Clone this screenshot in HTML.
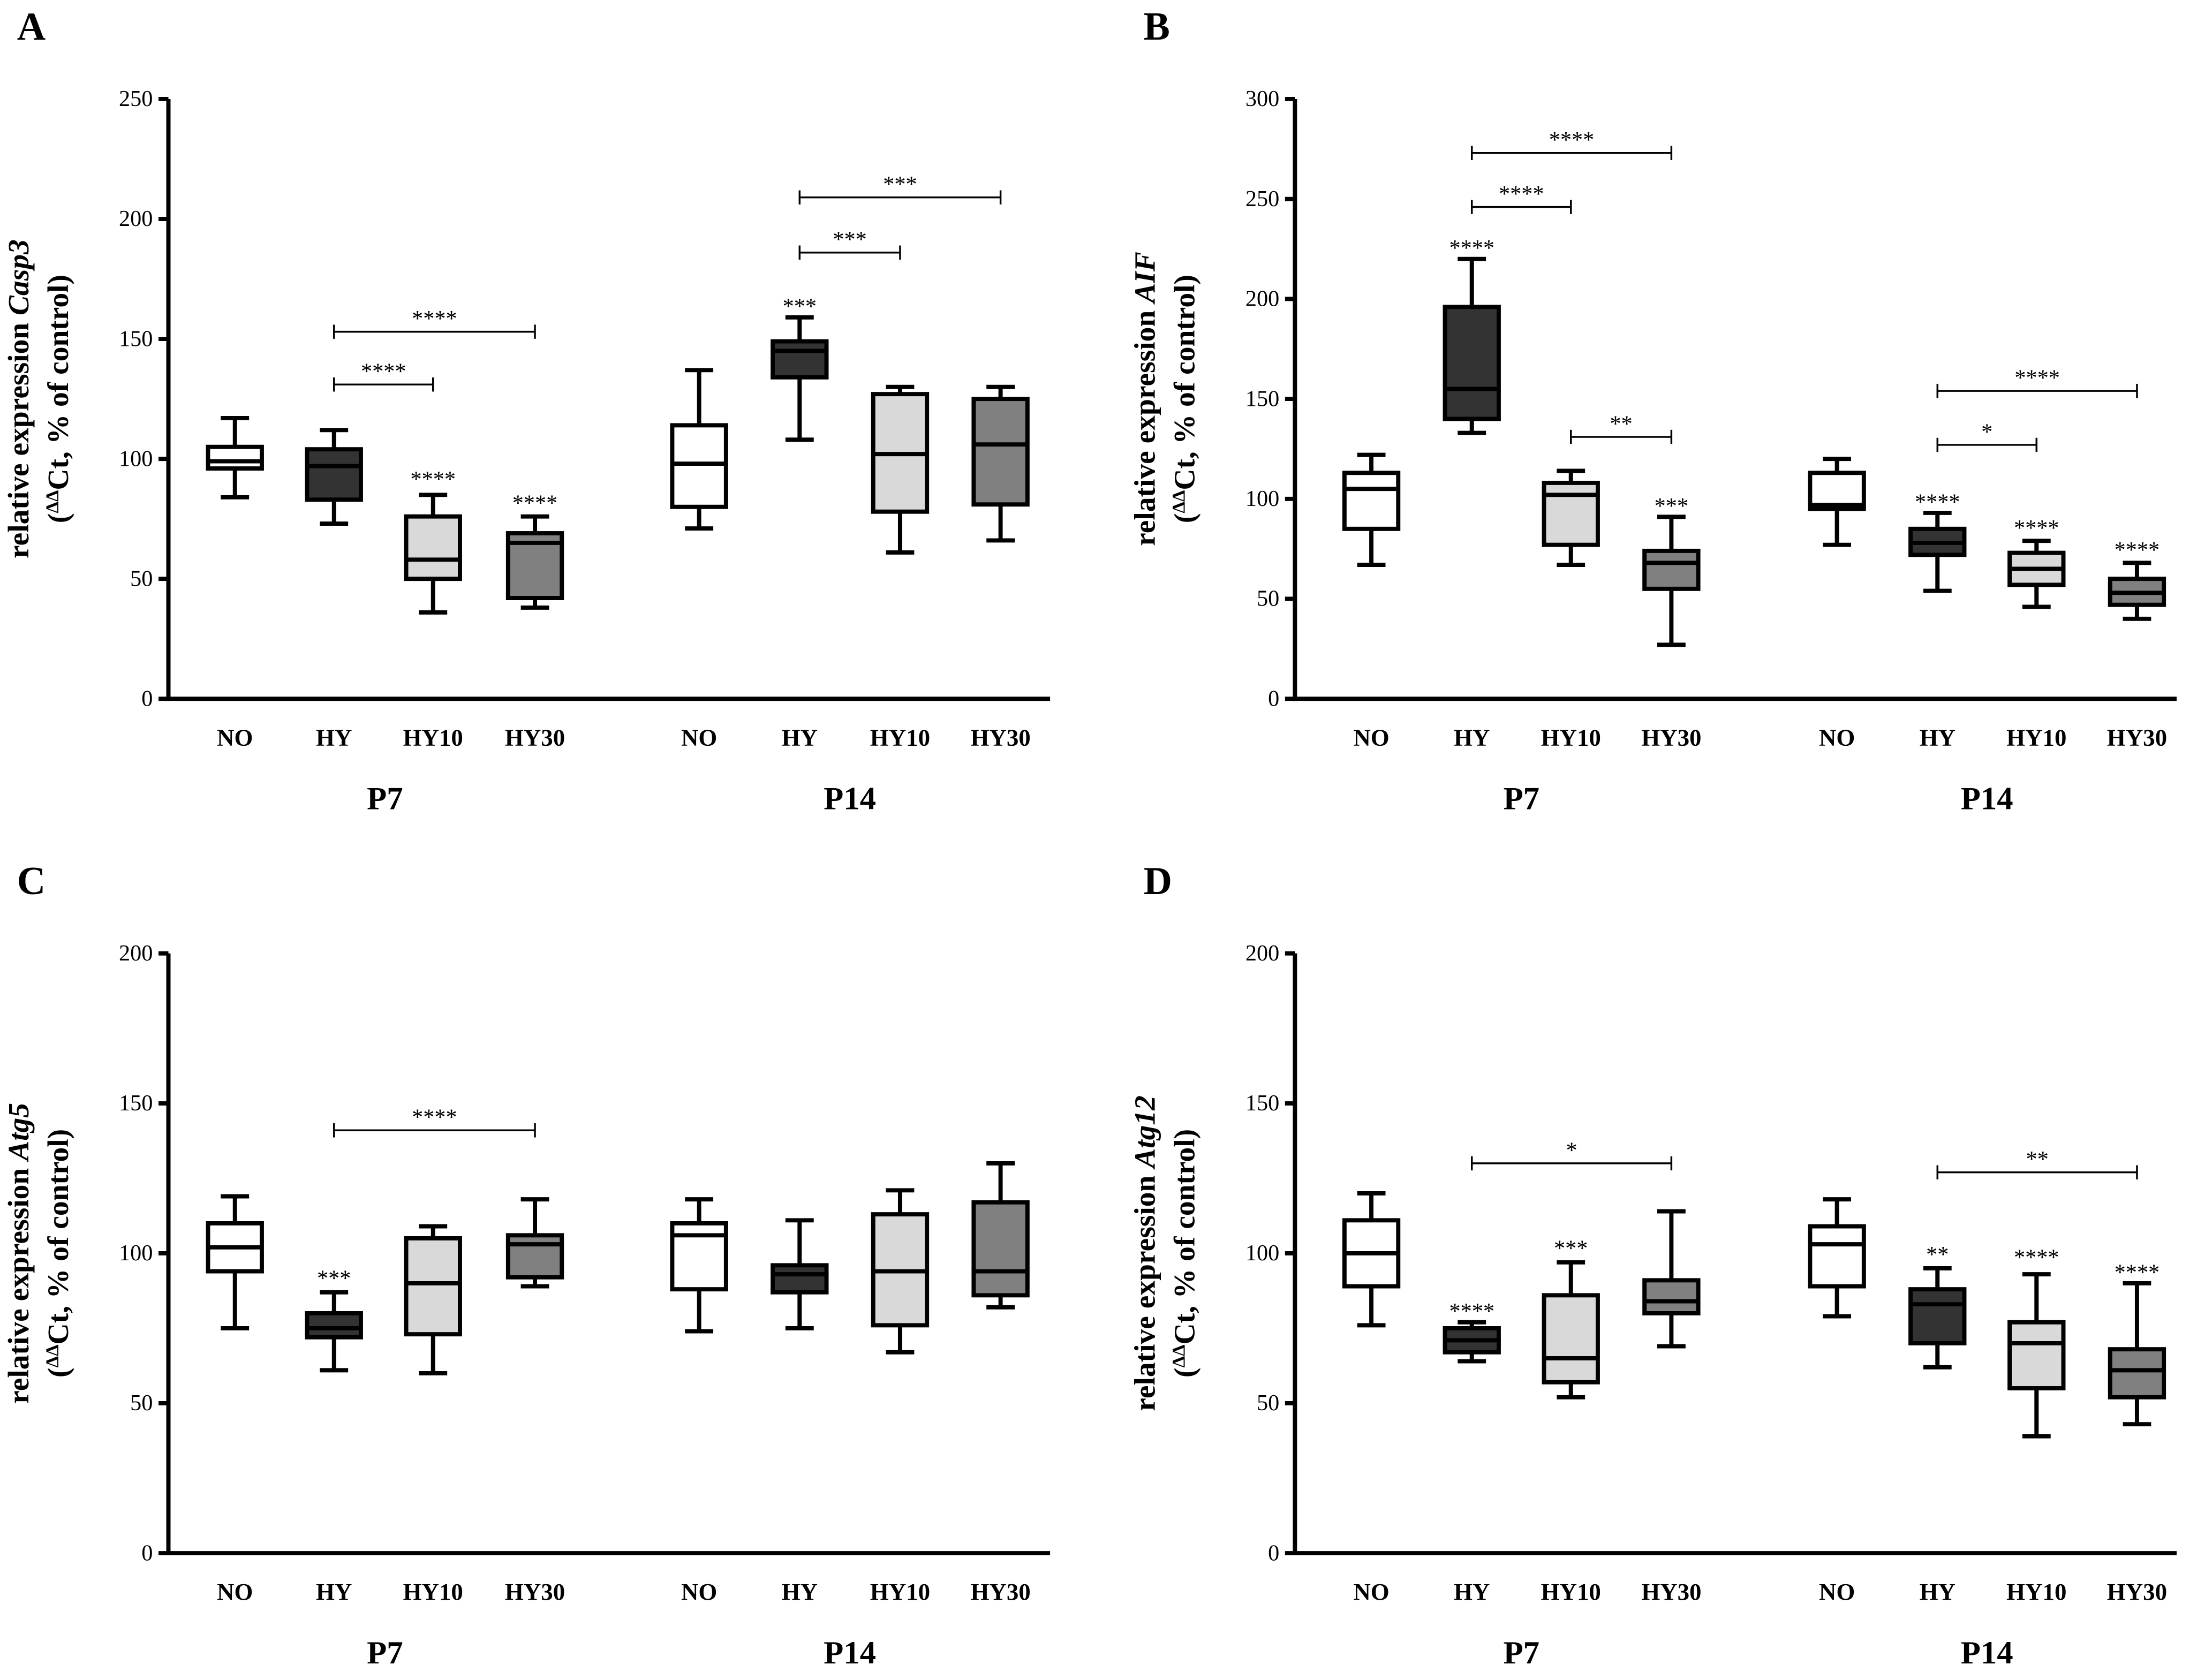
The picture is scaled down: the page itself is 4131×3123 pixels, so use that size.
<!DOCTYPE html>
<html><head><meta charset="utf-8"><style>
html,body{margin:0;padding:0;background:#fff;}
svg{display:block;font-family:"Liberation Serif",serif;}
</style></head><body>
<svg id="fig" width="4131" height="3123" viewBox="0 0 1563 1182" preserveAspectRatio="none" xmlns="http://www.w3.org/2000/svg"></svg>
<script>
const categories = ["NO","HY","HY10","HY30","NO","HY","HY10","HY30"];
const fills = ["#ffffff","#333333","#d9d9d9","#808080"];
// each box: [min, q1, median, q3, max]
const casp3Boxes = [[84,96,99,105,117],[73,83,97,104,112],[36,50,58,76,85],[38,42,65,69,76],
  [71,80,98,114,137],[108,134,145,149,159],[61,78,102,127,130],[66,81,106,125,130]];
const aifBoxes = [[67,85,105,113,122],[133,140,155,196,220],[67,77,102,108,114],[27,55,68,74,91],
  [77,95,97,113,120],[54,72,78,85,93],[46,57,65,73,79],[40,47,53,60,68]];
const atg5Boxes = [[75,94,102,110,119],[61,72,75,80,87],[60,73,90,105,109],[89,92,103,106,118],
  [74,88,106,110,118],[75,87,93,96,111],[67,76,94,113,121],[82,86,94,117,130]];
const atg12Boxes = [[76,89,100,111,120],[64,67,71,75,77],[52,57,65,86,97],[69,80,84,91,114],
  [79,89,103,109,118],[62,70,83,88,95],[39,55,70,77,93],[43,52,61,68,90]];
// star labels: [boxIndex, value, text]
const casp3Stars = [[2,92,"****"],[3,82,"****"],[5,164,"***"]];
const aifStars = [[1,226,"****"],[3,97,"***"],[5,99,"****"],[6,86,"****"],[7,75,"****"]];
const atg5Stars = [[1,92,"***"]];
const atg12Stars = [[1,81,"****"],[2,102,"***"],[5,100,"**"],[6,99,"****"],[7,94,"****"]];
// brackets: [fromBox, toBox, value, text]
const casp3Brackets = [[1,2,131,"****"],[1,3,153,"****"],[5,6,186,"***"],[5,7,209,"***"]];
const aifBrackets = [[1,2,246,"****"],[1,3,273,"****"],[2,3,131,"**"],[5,6,127,"*"],[5,7,154,"****"]];
const atg5Brackets = [[1,3,141,"****"]];
const atg12Brackets = [[1,3,130,"*"],[5,7,127,"**"]];
const casp3Ticks = [0,50,100,150,200,250];
const aifTicks = [0,50,100,150,200,250,300];
const atg5Ticks = [0,50,100,150,200];
const atg12Ticks = [0,50,100,150,200];

const NS="http://www.w3.org/2000/svg";
const svg=document.getElementById('fig');
function mk(tag,attrs,parent){const e=document.createElementNS(NS,tag);for(const k in attrs)e.setAttribute(k,attrs[k]);(parent||svg).appendChild(e);return e;}
function txt(s,attrs,parent){const e=mk('text',attrs,parent);e.textContent=s;return e;}

function panel(cfg){
  const g=mk('g',{});
  
  
  const yMax=cfg.ticks[cfg.ticks.length-1];
  const y=v=>cfg.y0-(v/yMax)*(cfg.y0-cfg.yTop);
  const xs=cfg.centers;
  const letter=txt(cfg.letter,{x:cfg.ax-107,y:cfg.yTop-42,'font-size':28,'font-weight':'bold'},g);
  
  
  const ya=mk('line',{x1:cfg.ax,x2:cfg.ax,y1:cfg.yTop,y2:cfg.y0+1.5,stroke:'#000','stroke-width':3},g);
  
  
  const xa=mk('line',{x1:cfg.ax-1.5,x2:cfg.ax+623,y1:cfg.y0,y2:cfg.y0,stroke:'#000','stroke-width':3},g);
  
  
  cfg.ticks.forEach(t=>{
    mk('line',{x1:cfg.ax-7,x2:cfg.ax,y1:y(t),y2:y(t),stroke:'#000','stroke-width':3},g);
    const tl=txt(String(t),{x:cfg.ax-11,y:y(t)+5,'font-size':16,'text-anchor':'end'},g);
    
    
  });
  const yc=(cfg.y0+cfg.yTop)/2;
  const t1=mk('text',{x:0,y:0,'font-size':21,'font-weight':'bold','text-anchor':'middle',transform:`translate(${cfg.ax-99},${yc}) rotate(-90)`},g);
  t1.innerHTML='relative expression <tspan font-style="italic">'+cfg.gene+'</tspan>';
  
  
  const t2=mk('text',{x:0,y:0,'font-size':21,'font-weight':'bold','text-anchor':'middle',transform:`translate(${cfg.ax-71},${yc}) rotate(-90)`},g);
  t2.innerHTML='(<tspan font-size="13" dy="-7">ΔΔ</tspan><tspan dy="7">Ct, % of control)</tspan>';
  
  
  cfg.boxes.forEach((b,i)=>{
    const cx=xs[i],w=38;
    const bg=mk('g',{},g);
    
    
    mk('line',{x1:cx,x2:cx,y1:y(b[0]),y2:y(b[4]),stroke:'#000','stroke-width':3},bg);
    mk('line',{x1:cx-10,x2:cx+10,y1:y(b[0]),y2:y(b[0]),stroke:'#000','stroke-width':3},bg);
    mk('line',{x1:cx-10,x2:cx+10,y1:y(b[4]),y2:y(b[4]),stroke:'#000','stroke-width':3},bg);
    mk('rect',{x:cx-w/2,y:y(b[3]),width:w,height:y(b[1])-y(b[3]),fill:fills[i%4],stroke:'#000','stroke-width':3},bg);
    mk('line',{x1:cx-w/2,x2:cx+w/2,y1:y(b[2]),y2:y(b[2]),stroke:'#000','stroke-width':3},bg);
    const cl=txt(categories[i],{x:cx,y:cfg.y0+33,'font-size':17,'font-weight':'bold','text-anchor':'middle'},g);
    
    
  });
  [['P7',(xs[0]+xs[3])/2],['P14',(xs[4]+xs[7])/2]].forEach(([s,x])=>{
    const l=txt(s,{x:x,y:cfg.y0+78,'font-size':23,'font-weight':'bold','text-anchor':'middle'},g);
    
    
  });
  cfg.stars.forEach(s=>{
    const l=txt(s[2],{x:xs[s[0]],y:y(s[1])+6,'font-size':16,'text-anchor':'middle'},g);
    
    
  });
  cfg.brackets.forEach(b=>{
    const bg=mk('g',{},g);
    
    
    const x1=xs[b[0]],x2=xs[b[1]],yy=y(b[2]);
    mk('line',{x1:x1,x2:x2,y1:yy,y2:yy,stroke:'#000','stroke-width':1.3},bg);
    mk('line',{x1:x1,x2:x1,y1:yy-5,y2:yy+5,stroke:'#000','stroke-width':1.3},bg);
    mk('line',{x1:x2,x2:x2,y1:yy-5,y2:yy+5,stroke:'#000','stroke-width':1.3},bg);
    txt(b[3],{x:(x1+x2)/2,y:yy-4,'font-size':16,'text-anchor':'middle'},bg);
  });
}
const cA=[166,236,306,378,494,565,636,707];
const cB=[969,1040,1110,1181,1298,1369,1439,1510];
panel({name:'panel-a-casp3',letter:'A',gene:'Casp3',ax:119,yTop:70,y0:494,ticks:casp3Ticks,centers:cA,boxes:casp3Boxes,stars:casp3Stars,brackets:casp3Brackets});
panel({name:'panel-b-aif',letter:'B',gene:'AIF',ax:915,yTop:70,y0:494,ticks:aifTicks,centers:cB,boxes:aifBoxes,stars:aifStars,brackets:aifBrackets});
panel({name:'panel-c-atg5',letter:'C',gene:'Atg5',ax:119,yTop:674,y0:1098,ticks:atg5Ticks,centers:cA,boxes:atg5Boxes,stars:atg5Stars,brackets:atg5Brackets});
panel({name:'panel-d-atg12',letter:'D',gene:'Atg12',ax:915,yTop:674,y0:1098,ticks:atg12Ticks,centers:cB,boxes:atg12Boxes,stars:atg12Stars,brackets:atg12Brackets});
</script>
</body></html>
